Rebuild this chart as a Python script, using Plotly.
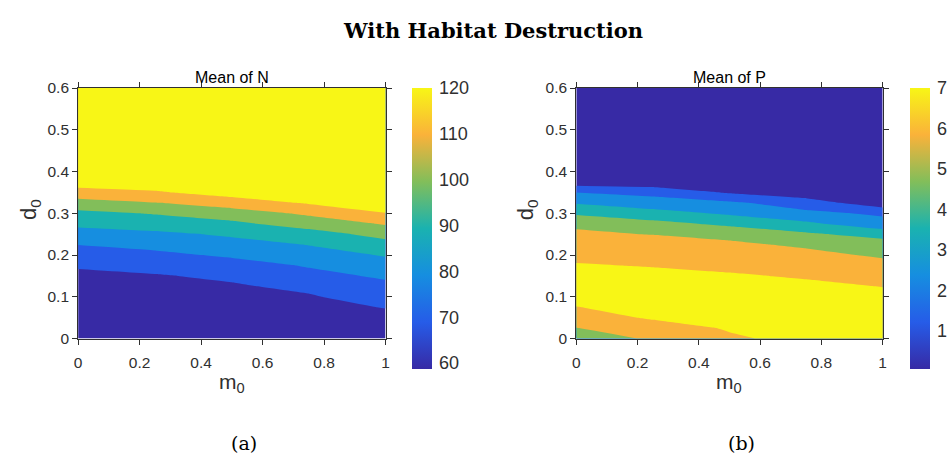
import plotly.graph_objects as go

# ---------------- data ----------------
m0 = [0.0, 0.25, 0.5, 0.75, 1.0]
d0 = [0.0, 0.025, 0.05, 0.075, 0.1, 0.125, 0.15, 0.175, 0.2, 0.225,
      0.25, 0.275, 0.3, 0.325, 0.35, 0.375, 0.4, 0.5, 0.6]

# rows = d0, columns = m0
mean_N = [
    [59.5, 59.8, 60.1, 60.3, 60.5],
    [60.0, 60.4, 60.7, 61.0, 61.3],
    [60.5, 61.0, 61.3, 61.8, 63.0],
    [61.0, 61.7, 62.0, 62.8, 65.3],
    [61.7, 62.5, 63.0, 64.3, 68.5],
    [62.5, 63.5, 64.2, 66.6, 72.0],
    [63.5, 64.5, 66.2, 71.5, 76.7],
    [65.8, 67.3, 70.0, 76.0, 81.5],
    [71.0, 72.0, 76.9, 81.0, 85.7],
    [75.2, 78.8, 81.0, 85.4, 91.5],
    [80.5, 82.5, 86.6, 91.0, 98.2],
    [87.5, 90.8, 93.0, 99.3, 105.9],
    [93.0, 95.6, 100.1, 106.8, 114.8],
    [100.1, 104.7, 110.3, 116.1, 120.0],
    [112.4, 114.0, 118.7, 120.0, 120.0],
    [118.3, 120.0, 120.0, 120.0, 120.0],
    [120.0, 120.0, 120.0, 120.0, 120.0],
    [120.0, 120.0, 120.0, 120.0, 120.0],
    [120.0, 120.0, 120.0, 120.0, 120.0],
]

mean_P = [
    [4.70, 5.08, 5.85, 6.30, 6.30],
    [4.98, 5.50, 6.10, 6.45, 6.45],
    [5.50, 6.13, 6.40, 6.60, 6.55],
    [5.96, 6.50, 6.60, 6.65, 6.50],
    [6.46, 6.65, 6.65, 6.55, 6.30],
    [6.60, 6.60, 6.50, 6.30, 5.97],
    [6.50, 6.35, 6.15, 5.86, 5.70],
    [6.10, 5.93, 5.68, 5.60, 5.35],
    [5.68, 5.60, 5.45, 5.30, 4.84],
    [5.40, 5.35, 5.20, 4.82, 4.45],
    [5.10, 4.98, 4.70, 4.15, 3.65],
    [4.89, 4.30, 3.78, 3.20, 2.30],
    [3.83, 3.36, 2.85, 2.20, 1.86],
    [2.93, 2.46, 2.15, 1.55, 0.30],
    [1.98, 1.69, 0.90, 0.30, 0.30],
    [0.45, 0.35, 0.30, 0.30, 0.30],
    [0.30, 0.30, 0.30, 0.30, 0.30],
    [0.30, 0.30, 0.30, 0.30, 0.30],
    [0.30, 0.30, 0.30, 0.30, 0.30],
]

x_ticks = [0, 0.2, 0.4, 0.6, 0.8, 1]
x_ticktext = ["0", "0.2", "0.4", "0.6", "0.8", "1"]
y_ticks = [0, 0.1, 0.2, 0.3, 0.4, 0.5, 0.6]
y_ticktext = ["0", "0.1", "0.2", "0.3", "0.4", "0.5", "0.6"]

N_levels = dict(start=65, end=115, size=10)
P_levels = dict(start=1, end=6, size=1)
N_cbar_range = (58.7, 120)
N_cbar_ticks = [60, 70, 80, 90, 100, 110, 120]
P_cbar_range = (0.06, 7)
P_cbar_ticks = [1, 2, 3, 4, 5, 6, 7]

# parula-like band colours
parula = [
    "rgb(55,42,165)", "rgb(38,92,232)", "rgb(22,142,224)", "rgb(26,178,176)",
    "rgb(130,190,90)", "rgb(250,178,58)", "rgb(248,246,22)",
]
cscale = [[i / (len(parula) - 1), c] for i, c in enumerate(parula)]

W, H = 948, 466
TXT = "#303030"
SANS = "Liberation Sans, Arial, sans-serif"
SERIF = "DejaVu Serif, serif"


def px_x(v):
    return v / W


def px_y(v):
    return 1 - v / H


fig = go.Figure()

for z, lev, xa, ya in [(mean_N, N_levels, "x", "y"), (mean_P, P_levels, "x2", "y2")]:
    fig.add_trace(go.Contour(
        x=m0, y=d0, z=z, xaxis=xa, yaxis=ya,
        autocontour=False,
        contours=dict(start=lev["start"], end=lev["end"], size=lev["size"],
                      coloring="fill", showlines=False),
        line=dict(width=0, smoothing=0),
        colorscale=cscale, showscale=False, hoverinfo="skip",
    ))

# continuous colour bars (MATLAB style)
for rng, ticks, xa, ya, cbx in [(N_cbar_range, N_cbar_ticks, "x", "y", 413),
                                (P_cbar_range, P_cbar_ticks, "x2", "y2", 917)]:
    fig.add_trace(go.Scatter(
        x=[None], y=[None], xaxis=xa, yaxis=ya, mode="markers", showlegend=False,
        hoverinfo="skip",
        marker=dict(color=[rng[0]], cmin=rng[0], cmax=rng[1], colorscale=cscale,
                    showscale=True,
                    colorbar=dict(x=px_x(cbx), xanchor="left", y=px_y(82), yanchor="top",
                                  thickness=20, thicknessmode="pixels",
                                  len=281, lenmode="pixels", xpad=0, ypad=0,
                                  outlinewidth=0, ticks="outside", ticklen=4,
                                  tickcolor="white",
                                  tickvals=ticks, ticktext=[str(t) for t in ticks],
                                  tickfont=dict(family=SANS, size=18, color=TXT))),
    ))

axis_common = dict(
    ticks="outside", ticklen=5, tickwidth=1, tickcolor=TXT,
    showline=True, linecolor=TXT, linewidth=1, mirror="ticks",
    showgrid=False, zeroline=False,
    tickfont=dict(family=SANS, size=15.5, color=TXT),
)

fig.update_layout(
    width=W, height=H,
    margin=dict(l=0, r=0, t=0, b=0),
    paper_bgcolor="white", plot_bgcolor="white",
    showlegend=False,
    xaxis=dict(domain=[px_x(75), px_x(386)], range=[0, 1], anchor="y",
               tickvals=x_ticks, ticktext=x_ticktext, ticklabelstandoff=5, **axis_common),
    yaxis=dict(domain=[px_y(342), px_y(82)], range=[0, 0.6], anchor="x",
               tickvals=y_ticks, ticktext=y_ticktext, **axis_common),
    xaxis2=dict(domain=[px_x(579), px_x(889)], range=[0, 1], anchor="y2",
                tickvals=x_ticks, ticktext=x_ticktext, ticklabelstandoff=5, **axis_common),
    yaxis2=dict(domain=[px_y(342), px_y(82)], range=[0, 0.6], anchor="x2",
                tickvals=y_ticks, ticktext=y_ticktext, **axis_common),
)

ann = []
ann.append(dict(text="<b>With Habitat Destruction</b>", x=px_x(495), y=px_y(22),
                font=dict(family=SERIF, size=21, color="black")))
for cx, title, lab in [(230.5, "Mean of N", "(a)"), (734, "Mean of P", "(b)")]:
    ann.append(dict(text=title, x=px_x(cx), y=px_y(71),
                    font=dict(family=SANS, size=16, color="black")))
    ann.append(dict(text="m<sub>0</sub>", x=px_x(cx), y=px_y(388),
                    font=dict(family=SANS, size=21, color=TXT)))
    ann.append(dict(text=lab, x=px_x(cx + 12), y=px_y(450),
                    font=dict(family=SERIF, size=19, color="black")))
for cx in [27, 530]:
    ann.append(dict(text="d<sub>0</sub>", x=px_x(cx), y=px_y(208), textangle=-90,
                    font=dict(family=SANS, size=22, color=TXT)))

for a in ann:
    a.update(xref="paper", yref="paper", xanchor="center", yanchor="middle",
             showarrow=False)
fig.update_layout(annotations=ann)

fig.write_html("out.html")
